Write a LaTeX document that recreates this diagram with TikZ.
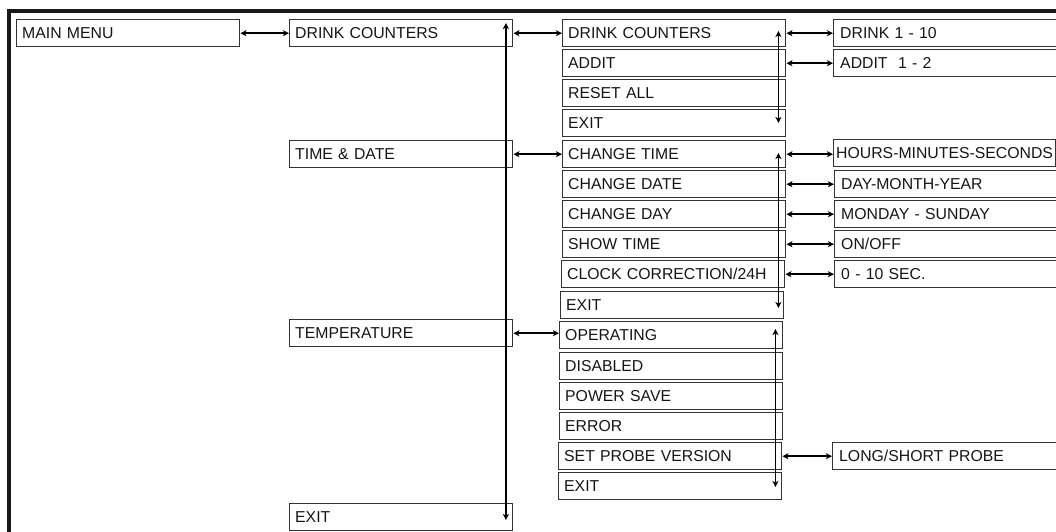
\documentclass[tikz,border=0pt]{standalone}
\usepackage{fontspec}
\setmainfont{Liberation Sans}
\usetikzlibrary{arrows.meta,calc}
\definecolor{boxline}{HTML}{333333}
\definecolor{ink}{HTML}{151515}
\begin{document}
\begin{tikzpicture}[x=1pt,y=-1pt,
  box/.style={draw=boxline, line width=1.4pt, anchor=north west, minimum height=27pt,
    inner xsep=5.5pt, inner ysep=0pt, text width=212pt, align=left,
    text height=11.3pt, text depth=0pt, text=ink, font=\fontsize{15.8}{18}\selectfont},
  wide/.style={box, text width=227pt, inner xsep=6.5pt},
  link/.style={line width=1.8pt, black, {Stealth[length=6pt,width=6pt,inset=1.5pt]}-{Stealth[length=6pt,width=6pt,inset=1.5pt]}}
]
\useasboundingbox (0,0) rectangle (1056,532);
\clip (0,0) rectangle (1056,532);
% frame
\draw[line width=3.2pt, black!90] (9,540) -- (9,11) -- (1060,11);

% column 1
\node[box] (mm) at (16,19) {MAIN MENU};
% column 2
\node[box] (dc2) at (289,19) {DRINK COUNTERS};
\node[box] (td) at (289,140) {TIME \& DATE};
\node[box] (tmp) at (289,319) {TEMPERATURE};
\node[box] (ex2) at (289,503) {EXIT};
% column 3: drink counters
\node[box] (dc3) at (562,19) {DRINK COUNTERS};
\node[box] (add) at (562,49) {ADDIT};
\node[box] (rst) at (562,79) {RESET ALL};
\node[box] (exd) at (562,109) {EXIT};
% column 3: time & date
\node[box] (ct) at (562,140) {CHANGE TIME};
\node[box] (cd) at (562,170) {CHANGE DATE};
\node[box] (cy) at (562,200) {CHANGE DAY};
\node[box] (st) at (562,230) {SHOW TIME};
\node[box] (cc) at (561,260) {CLOCK CORRECTION/24H};
\node[box] (ext) at (560,291) {EXIT};
% column 3: temperature
\node[box] (op) at (559,321) {OPERATING};
\node[box] (dis) at (559,352) {DISABLED};
\node[box] (ps) at (559,382) {POWER SAVE};
\node[box] (err) at (559,412) {ERROR};
\node[box] (spv) at (558,442) {SET PROBE VERSION};
\node[box] (exm) at (558,472) {EXIT};
% column 4
\node[wide] (d110) at (833,19) {DRINK 1 - 10};
\node[wide] (a12) at (833,49) {ADDIT\ \ 1 - 2};
\node[box, inner xsep=2.5pt, text width=217pt] (hms) at (833,139) {HOURS-MINUTES-SECONDS};
\node[wide] (dmy) at (834,170) {DAY-MONTH-YEAR};
\node[wide] (mon) at (834,200) {MONDAY - SUNDAY};
\node[wide] (onoff) at (834,230) {ON/OFF};
\node[wide] (sec) at (834,260) {0 - 10 SEC.};
\node[wide] (lsp) at (832,442) {LONG/SHORT PROBE};

% horizontal connectors
\draw[link] (mm.east) -- (mm.east -| dc2.west);
\draw[link] (dc2.east) -- (dc2.east -| dc3.west);
\draw[link] (td.east) -- (td.east -| ct.west);
\draw[link] (tmp.east) -- (tmp.east -| op.west);
\draw[link] (dc3.east) -- (dc3.east -| d110.west);
\draw[link] (add.east) -- (add.east -| a12.west);
\draw[link] (ct.east) -- (ct.east -| hms.west);
\draw[link] (cd.east) -- (cd.east -| dmy.west);
\draw[link] (cy.east) -- (cy.east -| mon.west);
\draw[link] (st.east) -- (st.east -| onoff.west);
\draw[link] (cc.east) -- (cc.east -| sec.west);
\draw[link] (spv.east) -- (spv.east -| lsp.west);

% vertical scroll connectors
\coordinate (v2a) at ($(dc2.north east)+(-7.5,4)$);
\coordinate (v2b) at ($(ex2.north east)+(-7.5,17)$);
\draw[link] (v2a) -- (v2b);
\coordinate (v3a) at ($(dc3.north east)+(-8,12)$);
\coordinate (v3b) at ($(exd.north east)+(-8,14)$);
\draw[link] (v3a) -- (v3a |- v3b);
\coordinate (v4a) at ($(ct.north east)+(-8,13)$);
\coordinate (v4b) at ($(ext.north east)+(-6,17)$);
\draw[link] (v4a) -- (v4a |- v4b);
\coordinate (v5a) at ($(op.north east)+(-8,8)$);
\coordinate (v5b) at ($(exm.north east)+(-7,15)$);
\draw[link] (v5a) -- (v5a |- v5b);
\end{tikzpicture}
\end{document}
